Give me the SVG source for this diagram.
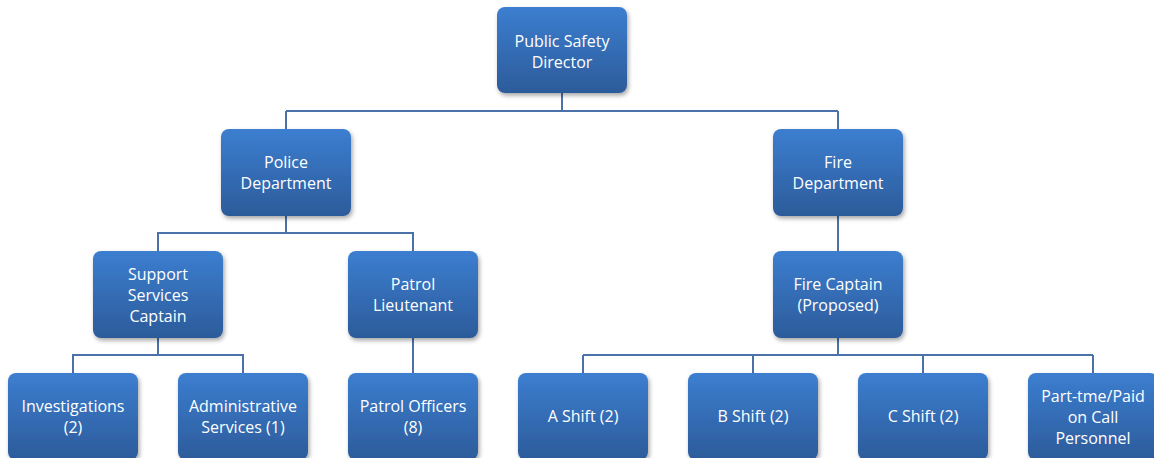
<svg xmlns="http://www.w3.org/2000/svg" width="1154" height="458" viewBox="0 0 1154 458">
<defs>
<linearGradient id="g" x1="0" y1="0" x2="0" y2="1">
<stop offset="0" stop-color="#3c7ed0"/>
<stop offset="1" stop-color="#2c5b9a"/>
</linearGradient>
<filter id="sh" x="-10%" y="-10%" width="125%" height="130%">
<feDropShadow dx="1.5" dy="2.5" stdDeviation="2" flood-color="#000" flood-opacity="0.35"/>
</filter>
<style>
.n rect{fill:url(#g);filter:url(#sh)}
.n text{fill:#fff;font-family:"Open Sans","Liberation Sans",sans-serif;font-size:16px;text-anchor:middle}
.c{fill:none;stroke:#4a72a8;stroke-width:2}
</style>
</defs>
<rect width="1154" height="458" fill="#fff"/>
<g id="connectors">
<path class="c" d="M562 93V111M286 111H838M286 111V129M838 111V129"/>
<path class="c" d="M286 216V233H158V251M286 233H413V251"/>
<path class="c" d="M838 216V251"/>
<path class="c" d="M158 338V355H73V373M158 355H243V373"/>
<path class="c" d="M413 338V373"/>
<path class="c" d="M838 338V355M583 355H1093M583 355V373M753 355V373M923 355V373M1093 355V373"/>
</g>
<g id="director" class="n"><rect x="497" y="7" width="130" height="86" rx="8"/><text x="562" y="47">Public Safety</text><text x="562" y="68">Director</text></g>
<g id="police" class="n"><rect x="221" y="129" width="130" height="87" rx="8"/><text x="286" y="168">Police</text><text x="286" y="189">Department</text></g>
<g id="fire" class="n"><rect x="773" y="129" width="130" height="87" rx="8"/><text x="838" y="168">Fire</text><text x="838" y="189">Department</text></g>
<g id="support" class="n"><rect x="93" y="251" width="130" height="87" rx="8"/><text x="158" y="280">Support</text><text x="158" y="301">Services</text><text x="158" y="322">Captain</text></g>
<g id="patrol-lt" class="n"><rect x="348" y="251" width="130" height="87" rx="8"/><text x="413" y="290">Patrol</text><text x="413" y="311">Lieutenant</text></g>
<g id="fire-captain" class="n"><rect x="773" y="251" width="130" height="87" rx="8"/><text x="838" y="290">Fire Captain</text><text x="838" y="311">(Proposed)</text></g>
<g id="investigations" class="n"><rect x="8" y="373" width="130" height="87" rx="8"/><text x="73" y="412">Investigations</text><text x="73" y="433">(2)</text></g>
<g id="admin" class="n"><rect x="178" y="373" width="130" height="87" rx="8"/><text x="243" y="412">Administrative</text><text x="243" y="433">Services (1)</text></g>
<g id="patrol-officers" class="n"><rect x="348" y="373" width="130" height="87" rx="8"/><text x="413" y="412">Patrol Officers</text><text x="413" y="433">(8)</text></g>
<g id="a-shift" class="n"><rect x="518" y="373" width="130" height="87" rx="8"/><text x="583" y="422">A Shift (2)</text></g>
<g id="b-shift" class="n"><rect x="688" y="373" width="130" height="87" rx="8"/><text x="753" y="422">B Shift (2)</text></g>
<g id="c-shift" class="n"><rect x="858" y="373" width="130" height="87" rx="8"/><text x="923" y="422">C Shift (2)</text></g>
<g id="part-time" class="n"><rect x="1028" y="373" width="130" height="87" rx="8"/><text x="1093" y="402">Part-tme/Paid</text><text x="1093" y="423">on Call</text><text x="1093" y="444">Personnel</text></g>
</svg>
